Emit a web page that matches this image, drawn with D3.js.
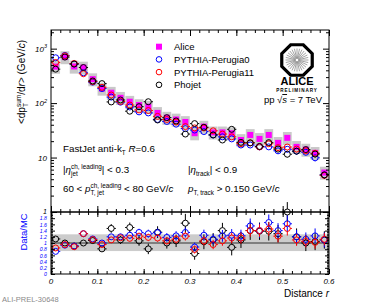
<!DOCTYPE html>
<html>
<head>
<meta charset="utf-8">
<script src="https://cdn.jsdelivr.net/npm/d3@7"></script>
<style>
  body { margin: 0; background: #fff; }
  text { font-family: "Liberation Sans", Arial, Helvetica, sans-serif; }
</style>
</head>
<body>
<div id="chart"></div>
<script>
// bin centres in r (bin width 0.02)
var rBins = [0.01, 0.03, 0.05, 0.07, 0.09, 0.11, 0.13, 0.15, 0.17, 0.19,
             0.21, 0.23, 0.25, 0.27, 0.29, 0.31, 0.33, 0.35, 0.37, 0.39,
             0.41, 0.43, 0.45, 0.47, 0.49, 0.51, 0.53, 0.55, 0.57, 0.59];

// top panel <dpT_sum/dr>
var alice     = [468, 700, 470, 450, 275, 185, 155, 125, 106, 92,
                 86, 66, 54, 50, 45, 28, 37, 29, 29, 28,
                 21, 26, 22, 26, 18.6, 23, 15.7, 14, 12.2, 5.3];
var perugia0  = [680, 750, 522, 360, 243, 185, 129, 104, 85, 69,
                 66, 50, 46, 41, 34, 32, 30, 26, 24, 22,
                 17, 17, 15.7, 15.7, 13.3, 14.2, 13.1, 12.5, 9.9, 4.8];
var perugia11 = [557, 737, 534, 346, 248, 195, 141, 107, 92, 75,
                 73, 57, 50, 45, 37, 35, 35, 31, 27, 24,
                 18, 18.6, 15.7, 17.9, 15.2, 15.6, 14.3, 13.3, 12, 4.7];
var phojet    = [420, 700, 522, 450, 255, 228, 105, 114, 71, 86,
                 106, 49, 54, 47, 27, 42, 36, 26, 21, 33,
                 19, 18.6, 16, 18.8, 14.3, 11.5, 13.1, 14, 11.6, 4.8];
// relative stat. error of the MC curves (top panel)
var mcRelErr  = [0.03, 0.03, 0.03, 0.03, 0.04, 0.04, 0.05, 0.05, 0.06, 0.06,
                 0.07, 0.07, 0.08, 0.08, 0.09, 0.09, 0.1, 0.1, 0.1, 0.11,
                 0.11, 0.12, 0.12, 0.12, 0.13, 0.13, 0.13, 0.13, 0.14, 0.14];

// lower panel Data/MC
var ratioP0   = [0.73, 0.93, 0.9, 1.3, 1.13, 1.0, 1.2, 1.2, 1.25, 1.34,
                 1.3, 1.33, 1.18, 1.23, 1.34, 0.87, 1.25, 1.12, 1.23, 1.25,
                 1.23, 1.55, 1.4, 1.66, 1.4, 1.62, 1.2, 1.12, 1.23, 1.1];
var ratioP11  = [0.84, 0.95, 0.88, 1.3, 1.11, 0.95, 1.1, 1.17, 1.15, 1.22,
                 1.18, 1.16, 1.07, 1.12, 1.22, 0.79, 1.07, 0.95, 1.07, 1.16,
                 1.16, 1.4, 1.4, 1.45, 1.22, 1.47, 1.1, 1.05, 1.02, 1.12];
var ratioPho  = [1.13, 1.0, 0.9, 1.0, 1.08, 0.81, 1.47, 1.1, 1.5, 1.07,
                 0.81, 1.35, 1.0, 1.07, 1.64, 0.66, 1.04, 1.1, 1.4, 0.86,
                 1.1, 1.4, 1.38, 1.38, 1.3, 2.0, 1.2, 1.0, 1.05, 1.1];
var errP0     = [0.06, 0.05, 0.05, 0.07, 0.07, 0.08, 0.1, 0.1, 0.12, 0.12,
                 0.13, 0.14, 0.14, 0.15, 0.16, 0.14, 0.18, 0.17, 0.19, 0.2,
                 0.2, 0.24, 0.23, 0.26, 0.24, 0.27, 0.22, 0.22, 0.24, 0.24];
var errP11    = [0.05, 0.05, 0.05, 0.06, 0.07, 0.07, 0.09, 0.09, 0.1, 0.11,
                 0.12, 0.12, 0.12, 0.13, 0.14, 0.13, 0.15, 0.15, 0.16, 0.17,
                 0.18, 0.2, 0.2, 0.22, 0.2, 0.23, 0.19, 0.19, 0.2, 0.2];
var errPho    = [0.08, 0.07, 0.07, 0.09, 0.1, 0.1, 0.14, 0.13, 0.16, 0.16,
                 0.17, 0.19, 0.18, 0.2, 0.3, 0.2, 0.24, 0.22, 0.25, 0.26,
                 0.26, 0.3, 0.28, 0.3, 0.28, 0.32, 0.27, 0.26, 0.28, 0.28];

// systematic band of the data (relative)
var sysLow = 0.74, sysHigh = 1.28;

var xMajor = [0, 0.1, 0.2, 0.3, 0.4, 0.5, 0.6];
var xLabels = ["0", "0.1", "0.2", "0.3", "0.4", "0.5", "0.6"];
var yTicks = [1, 10, 100, 1000];
var yBase = ["1", "10", "10", "10"];
var yExp = ["", "", "2", "3"];
var ratioTicks = [0, 0.2, 0.4, 0.6, 0.8, 1, 1.2, 1.4, 1.6, 1.8];
var ratioLabels = ["0", "0.2", "0.4", "0.6", "0.8", "1", "1.2", "1.4", "1.6", "1.8"];
var legendNames = ["Alice", "PYTHIA-Perugia0", "PYTHIA-Perugia11", "Phojet"];

var W = 366, H = 305;
var svg = d3.select("#chart").append("svg").attr("width", W).attr("height", H);

var x = d3.scaleLinear().domain([0, 0.6]).range([51, 329]);
var y = d3.scaleLog().domain([1, 2200]).range([212, 30]);
var yr = d3.scaleLinear().domain([0, 2]).range([274, 212]);

// text with stacked super/subscripts
function rich(parent, x0, y0, parts, size, color) {
  var g = parent.append("g");
  var cx = x0;
  parts.forEach(function(p) {
    if (p.t) {
      var t = g.append("text").attr("x", cx).attr("y", y0)
        .attr("font-size", size).attr("fill", color || "#000")
        .attr("font-style", p.it ? "italic" : null)
        .style("white-space", "pre").text(p.t);
      cx += t.node().getComputedTextLength();
    }
    var w = 0;
    if (p.sup) {
      var s = g.append("text").attr("x", cx).attr("y", y0 - size * 0.45)
        .attr("font-size", size * 0.65).attr("fill", color || "#000").text(p.sup);
      w = Math.max(w, s.node().getComputedTextLength());
    }
    if (p.sub) {
      var b = g.append("text").attr("x", cx).attr("y", y0 + size * 0.3)
        .attr("font-size", size * 0.65).attr("fill", color || "#000").text(p.sub);
      w = Math.max(w, b.node().getComputedTextLength());
    }
    cx += w;
  });
  return { g: g, width: cx - x0 };
}

// ---------- top panel ----------
var topG = svg.append("g");

// systematic boxes
topG.selectAll("rect.sys").data(rBins).enter().append("rect")
  .attr("x", d => x(d - 0.0095))
  .attr("width", d => x(d + 0.0095) - x(d - 0.0095))
  .attr("y", (d, i) => y(alice[i] * sysHigh))
  .attr("height", (d, i) => y(alice[i] * sysLow) - y(alice[i] * sysHigh))
  .attr("fill", "#c9c9c9");

// alice points
topG.selectAll("line.aerr").data(rBins).enter().append("line")
  .attr("x1", d => x(d)).attr("x2", d => x(d))
  .attr("y1", (d, i) => y(alice[i] * 1.06)).attr("y2", (d, i) => y(alice[i] / 1.06))
  .attr("stroke", "#ff00ff").attr("stroke-width", 1);
topG.selectAll("rect.alice").data(rBins).enter().append("rect")
  .attr("x", d => x(d) - 3).attr("y", (d, i) => y(alice[i]) - 3)
  .attr("width", 6).attr("height", 6).attr("fill", "#ff00ff");

function drawMC(g, vals, errs, color, yScale, relative) {
  var rad = 3;
  rBins.forEach(function(r, i) {
    var cx = x(r), cy = yScale(vals[i]);
    var hi = relative ? yScale(vals[i] * (1 + errs[i])) : yScale(vals[i] + errs[i]);
    var lo = relative ? yScale(vals[i] * (1 - errs[i])) : yScale(vals[i] - errs[i]);
    var seg = [
      [cx, hi, cx, Math.max(hi, cy - rad)],
      [cx, cy + rad, cx, Math.max(lo, cy + rad)],
      [x(r - 0.01), cy, cx - rad, cy],
      [cx + rad, cy, x(r + 0.01), cy]
    ];
    seg.forEach(function(s) {
      g.append("line").attr("x1", s[0]).attr("y1", s[1]).attr("x2", s[2]).attr("y2", s[3])
        .attr("stroke", color).attr("stroke-width", 1);
    });
    g.append("circle").attr("cx", cx).attr("cy", cy).attr("r", rad)
      .attr("fill", "none").attr("stroke", color).attr("stroke-width", 1);
  });
}

drawMC(topG.append("g"), perugia0, mcRelErr, "#0000ff", y, true);
drawMC(topG.append("g"), perugia11, mcRelErr, "#ff0000", y, true);
drawMC(topG.append("g"), phojet, mcRelErr, "#000000", y, true);

// ---------- bottom panel ----------
var bot = svg.append("g");
bot.append("rect")
  .attr("x", x(0)).attr("width", x(0.6) - x(0))
  .attr("y", yr(sysHigh)).attr("height", yr(sysLow) - yr(sysHigh))
  .attr("fill", "#cccccc");
bot.append("line")
  .attr("x1", x(0)).attr("x2", x(0.6)).attr("y1", yr(1)).attr("y2", yr(1))
  .attr("stroke", "#333").attr("stroke-width", 1);

drawMC(bot.append("g"), ratioPho, errPho, "#000000", yr, false);
drawMC(bot.append("g"), ratioP0, errP0, "#0000ff", yr, false);
drawMC(bot.append("g"), ratioP11, errP11, "#ff0000", yr, false);

// ---------- frames and ticks ----------
svg.append("rect").attr("x", 51).attr("y", 30).attr("width", 278).attr("height", 182)
  .attr("fill", "none").attr("stroke", "#000");
svg.append("rect").attr("x", 51).attr("y", 212).attr("width", 278).attr("height", 62)
  .attr("fill", "none").attr("stroke", "#000");

function tickSet(axis, vals, size, tx, ty) {
  var a = axis.tickValues(vals).tickSize(size).tickFormat("");
  var g = svg.append("g").attr("transform", "translate(" + tx + "," + ty + ")").call(a);
  g.select(".domain").remove();
  g.selectAll("line").attr("stroke", "#000");
}

var xMinor = d3.range(0, 31).map(d => d * 0.02);
var logMinor = [];
[1, 10, 100, 1000].forEach(function(b) {
  for (var k = 2; k <= 9; k++) if (b * k < 2200) logMinor.push(b * k);
});
var ratioMinor = d3.range(0, 41).map(d => d * 0.05);

// top panel
tickSet(d3.axisBottom(x), xMinor, -3, 0, 212);
tickSet(d3.axisBottom(x), xMajor, -6, 0, 212);
tickSet(d3.axisTop(x), xMinor, -3, 0, 30);
tickSet(d3.axisTop(x), xMajor, -6, 0, 30);
tickSet(d3.axisLeft(y), logMinor, -3, 51, 0);
tickSet(d3.axisLeft(y), yTicks, -6, 51, 0);
tickSet(d3.axisRight(y), logMinor, -3, 329, 0);
tickSet(d3.axisRight(y), yTicks, -6, 329, 0);
// bottom panel
tickSet(d3.axisTop(x), xMinor, -3, 0, 212);
tickSet(d3.axisTop(x), xMajor, -5, 0, 212);
tickSet(d3.axisBottom(x), xMinor, -3, 0, 274);
tickSet(d3.axisBottom(x), xMajor, -5, 0, 274);
tickSet(d3.axisLeft(yr), ratioMinor, -2, 51, 0);
tickSet(d3.axisLeft(yr), ratioTicks, -4, 51, 0);
tickSet(d3.axisRight(yr), ratioMinor, -2, 329, 0);
tickSet(d3.axisRight(yr), ratioTicks, -4, 329, 0);

// tick labels
xMajor.forEach(function(v, i) {
  svg.append("text").attr("x", x(v)).attr("y", 284).attr("text-anchor", "middle")
    .attr("font-size", 8).attr("font-style", "italic").text(xLabels[i]);
});
yTicks.forEach(function(v, i) {
  var t = svg.append("text").attr("x", 47).attr("y", y(v) + (v === 1 ? 2 : 3)).attr("text-anchor", "end")
    .attr("font-size", v === 1 ? 7 : 8).attr("font-style", "italic");
  t.append("tspan").text(yBase[i]);
  if (yExp[i]) t.append("tspan").attr("dy", -3.5).attr("font-size", 5.5).text(yExp[i]);
});
ratioTicks.forEach(function(v, i) {
  svg.append("text").attr("x", 47).attr("y", yr(v) + 2.2).attr("text-anchor", "end")
    .attr("font-size", 5.2).attr("font-style", "italic").attr("fill", "#0000ff").text(ratioLabels[i]);
});

// axis titles
var ttl = svg.append("g").attr("transform", "translate(25,40) rotate(-90)");
var tt = rich(ttl, 0, 0, [
  { t: "<dp", sub: "T", sup: "sum" }, { t: "/d" }, { t: "r", it: true }, { t: "> (GeV/" }, { t: "c", it: true }, { t: ")" }
], 10);
tt.g.attr("transform", "translate(" + (-tt.width) + ",0)");

svg.append("text").attr("transform", "translate(27,232) rotate(-90)")
  .attr("text-anchor", "middle").attr("font-size", 9.4).attr("fill", "#0000ff").text("Data/MC");

var dist = svg.append("text").attr("x", 329).attr("y", 297).attr("text-anchor", "end").attr("font-size", 10);
dist.append("tspan").text("Distance ");
dist.append("tspan").attr("font-style", "italic").text("r");

svg.append("text").attr("x", 2).attr("y", 302).attr("font-size", 7.5)
  .attr("font-family", "Liberation Mono, DejaVu Sans Mono, monospace").attr("fill", "#8a8a8a")
  .text("ALI-PREL-30648");

// ---------- legend ----------
var colors = ["#ff00ff", "#0000ff", "#ff0000", "#000000"];
legendNames.forEach(function(name, i) {
  var ly = 46.7 + i * 12.7;
  if (i === 0) {
    svg.append("rect").attr("x", 156).attr("y", ly - 3).attr("width", 6).attr("height", 6).attr("fill", colors[0]);
  } else {
    svg.append("circle").attr("cx", 159).attr("cy", ly).attr("r", 2.8)
      .attr("fill", "none").attr("stroke", colors[i]).attr("stroke-width", 1);
  }
  svg.append("text").attr("x", 174).attr("y", ly + 3.4).attr("font-size", 9.5).text(name);
});

// ---------- ALICE logo ----------
var logo = svg.append("g").attr("transform", "translate(297,60)");
var oct = d3.range(8).map(function(k) {
  var a = Math.PI / 8 + k * Math.PI / 4;
  return [16.5 * Math.cos(a), 16.5 * Math.sin(a)];
});
logo.append("polygon").attr("points", oct.map(p => p.join(",")).join(" "))
  .attr("fill", "#fff").attr("stroke", "#000").attr("stroke-width", 3.2);
d3.range(28).forEach(function(k) {
  var a = k * 2 * Math.PI / 28;
  logo.append("line").attr("x1", 1.5 * Math.cos(a)).attr("y1", 1.5 * Math.sin(a))
    .attr("x2", 11.5 * Math.cos(a)).attr("y2", 11.5 * Math.sin(a))
    .attr("stroke", "#8c8c8c").attr("stroke-width", 0.8);
});
svg.append("text").attr("x", 297).attr("y", 84.5).attr("text-anchor", "middle")
  .attr("font-size", 11).attr("font-weight", "bold").text("ALICE");
svg.append("text").attr("x", 297).attr("y", 91.5).attr("text-anchor", "middle")
  .attr("font-size", 4.6).attr("font-weight", "bold").attr("letter-spacing", 0.9).text("PRELIMINARY");

// pp sqrt(s)
var pp = svg.append("text").attr("x", 322).attr("y", 103).attr("text-anchor", "end").attr("font-size", 9.5);
pp.append("tspan").text("pp \u221A");
pp.append("tspan").attr("font-style", "italic").attr("text-decoration", "overline").text("s");
pp.append("tspan").text(" = 7 TeV");

// ---------- annotations ----------
rich(svg, 63, 152, [{ t: "FastJet anti-k", sub: "T" }, { t: " " }, { t: "R", it: true }, { t: "=0.6" }], 9.8);
rich(svg, 63, 173, [{ t: "|" }, { t: "\u03B7", it: true, sup: "ch, leading", sub: "jet" }, { t: "| < 0.3" }], 9.8);
rich(svg, 63, 192, [{ t: "60 < " }, { t: "p", it: true, sup: "ch, leading", sub: "T, jet" }, { t: " < 80 GeV/" }, { t: "c", it: true }], 9.8);
rich(svg, 188, 173, [{ t: "|" }, { t: "\u03B7", it: true, sub: "track" }, { t: "| < 0.9" }], 9.8);
rich(svg, 188, 192, [{ t: "p", it: true, sub: "T, track" }, { t: " > 0.150 GeV/" }, { t: "c", it: true }], 9.8);
</script>
</body>
</html>
